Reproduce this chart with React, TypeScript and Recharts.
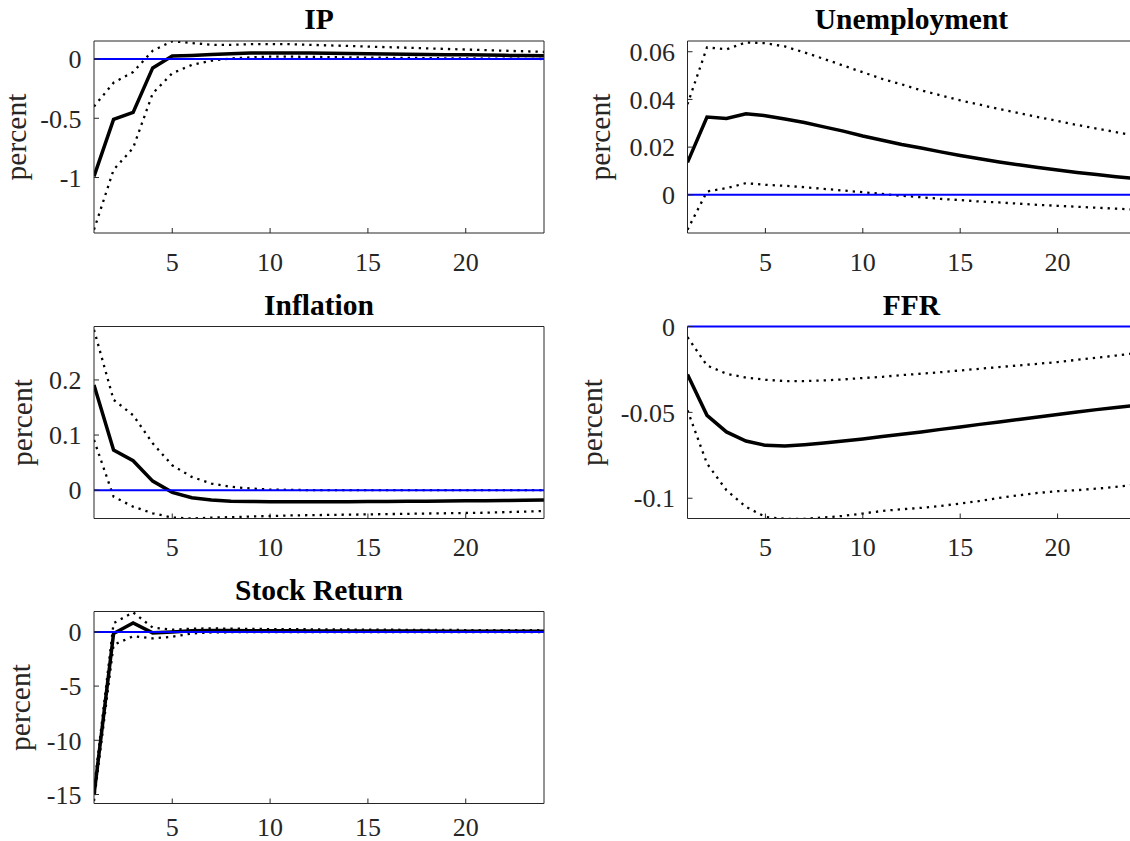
import React from 'react';
import { LineChart, Line, XAxis, YAxis, ReferenceLine } from 'recharts';

// ---------- data ----------
const horizons = [1, 2, 3, 4, 5, 6, 7, 8, 9, 10, 11, 12, 13, 14, 15, 16, 17, 18, 19, 20, 21, 22, 23, 24];
const xTicks = [5, 10, 15, 20];

const ipIrf = [-0.99, -0.51, -0.45, -0.075, 0.025, 0.03, 0.038, 0.045, 0.05, 0.05, 0.05, 0.05, 0.048, 0.047, 0.045, 0.043, 0.041, 0.039, 0.037, 0.035, 0.033, 0.031, 0.029, 0.027];
const ipUpper = [-0.4, -0.2, -0.11, 0.07, 0.15, 0.135, 0.12, 0.12, 0.125, 0.125, 0.125, 0.12, 0.115, 0.11, 0.105, 0.1, 0.095, 0.09, 0.085, 0.08, 0.075, 0.07, 0.065, 0.06];
const ipLower = [-1.44, -0.935, -0.75, -0.29, -0.12, -0.05, -0.014, 0.005, 0.014, 0.02, 0.02, 0.018, 0.016, 0.014, 0.012, 0.01, 0.009, 0.008, 0.006, 0.005, 0.004, 0.003, 0.002, 0.0];
const ipTicks = [-1, -0.5, 0];

const unIrf = [0.0136, 0.0326, 0.032, 0.034, 0.0332, 0.0318, 0.0303, 0.0285, 0.0267, 0.0247, 0.0229, 0.0211, 0.0196, 0.018, 0.0165, 0.0151, 0.0138, 0.0126, 0.0115, 0.0104, 0.0094, 0.0085, 0.0076, 0.0068];
const unUpper = [0.038, 0.0618, 0.061, 0.0639, 0.0636, 0.0622, 0.0597, 0.057, 0.0542, 0.0514, 0.0486, 0.0463, 0.0438, 0.0417, 0.0396, 0.0378, 0.036, 0.0343, 0.0326, 0.031, 0.0293, 0.0278, 0.0263, 0.0247];
const unLower = [-0.0146, 0.0014, 0.0028, 0.0049, 0.0042, 0.0038, 0.0032, 0.0025, 0.0018, 0.0011, 0.0004, -0.0004, -0.001, -0.0017, -0.0022, -0.0028, -0.0032, -0.0037, -0.0042, -0.0046, -0.005, -0.0054, -0.0058, -0.0062];
const unTicks = [0, 0.02, 0.04, 0.06];

const infIrf = [0.191, 0.0727, 0.0533, 0.0164, -0.004, -0.0139, -0.018, -0.02, -0.0206, -0.021, -0.021, -0.021, -0.021, -0.021, -0.0208, -0.0205, -0.0202, -0.02, -0.0198, -0.0195, -0.0192, -0.0188, -0.0184, -0.018];
const infUpper = [0.291, 0.164, 0.136, 0.085, 0.045, 0.024, 0.012, 0.006, 0.003, 0.001, 0.0005, 0.0, 0.0, 0.0, 0.0, 0.0, 0.0, 0.0, 0.0, 0.0, 0.0, 0.0, 0.0, 0.0];
const infLower = [0.091, -0.012, -0.03, -0.042, -0.0497, -0.0515, -0.05, -0.049, -0.048, -0.047, -0.046, -0.0455, -0.045, -0.0445, -0.044, -0.0435, -0.043, -0.0425, -0.042, -0.0415, -0.041, -0.04, -0.039, -0.038];
const infTicks = [0, 0.1, 0.2];

const ffrIrf = [-0.0279, -0.0517, -0.0614, -0.0667, -0.0692, -0.0696, -0.0688, -0.0678, -0.0667, -0.0655, -0.0641, -0.0628, -0.0614, -0.0599, -0.0585, -0.057, -0.0556, -0.0541, -0.0527, -0.0512, -0.0498, -0.0484, -0.0471, -0.0459];
const ffrUpper = [-0.0062, -0.0227, -0.0275, -0.0298, -0.031, -0.0318, -0.0318, -0.0314, -0.0308, -0.03, -0.0293, -0.0283, -0.0275, -0.0266, -0.0256, -0.0246, -0.0236, -0.0227, -0.0217, -0.0207, -0.0194, -0.0182, -0.0169, -0.0155];
const ffrLower = [-0.0488, -0.0798, -0.0953, -0.105, -0.1109, -0.112, -0.112, -0.1112, -0.1103, -0.1089, -0.1074, -0.1064, -0.1056, -0.1045, -0.1031, -0.1016, -0.0998, -0.0983, -0.0969, -0.0959, -0.0953, -0.0944, -0.0934, -0.092];
const ffrTicks = [-0.1, -0.05, 0];

const stIrf = [-15.05, -0.15, 0.83, -0.09, 0.0, 0.1, 0.12, 0.12, 0.11, 0.1, 0.1, 0.09, 0.09, 0.08, 0.08, 0.07, 0.07, 0.07, 0.06, 0.06, 0.06, 0.05, 0.05, 0.05];
const stUpper = [-14.5, 0.8, 1.8, 0.4, 0.2, 0.3, 0.32, 0.3, 0.28, 0.26, 0.25, 0.24, 0.23, 0.22, 0.21, 0.2, 0.19, 0.18, 0.18, 0.17, 0.17, 0.16, 0.16, 0.15];
const stLower = [-15.6, -1.2, -0.4, -0.6, -0.45, -0.15, -0.05, -0.03, -0.03, -0.03, -0.03, -0.03, -0.02, -0.02, -0.02, -0.02, -0.02, -0.02, -0.02, -0.02, -0.02, -0.02, -0.02, -0.02];
const stTicks = [-15, -10, -5, 0];

// ---------- layout ----------
const FONT = '"Liberation Serif", "Times New Roman", serif';
const AX = '#262626';
const PLOT_H = 192;
const X_AXIS_H = 50;

type PanelProps = {
  title: string;
  irf: number[];
  upper: number[];
  lower: number[];
  yDomain: [number, number];
  yTicks: number[];
  chartLeft: number;
  chartTop: number;
  chartWidth: number;
  plotLeft: number;
  plotRight: number;
  plotTop: number;
  labelX: number;
  xTickMargin: number;
  hideTopLine?: boolean;
};

function Panel(p: PanelProps) {
  const { chartLeft, chartTop, chartWidth, plotLeft, plotRight, plotTop } = p;
  const height = plotTop - chartTop + PLOT_H + X_AXIS_H;
  const data = horizons.map((h, i) => ({ h, irf: p.irf[i], upper: p.upper[i], lower: p.lower[i] }));
  const titleX = (plotLeft + plotRight) / 2 - chartLeft;
  const titleY = plotTop - chartTop - 12;
  const lx = p.labelX - chartLeft;
  const ly = plotTop - chartTop + PLOT_H / 2;
  const titleFn = () => (
    <text x={titleX} y={titleY} textAnchor="middle" fontFamily={FONT} fontWeight="bold" fontSize={29.5} fill="#000">
      {p.title}
    </text>
  );
  const ylabelFn = () => (
    <text x={lx} y={ly} transform={`rotate(-90, ${lx}, ${ly})`} textAnchor="middle" fontFamily={FONT} fontSize={29.5} fill={AX}>
      percent
    </text>
  );
  const tickStyle = { fill: AX, fontSize: 26, fontFamily: FONT };
  return (
    <div style={{ position: 'absolute', left: chartLeft, top: chartTop, width: chartWidth, height }}>
      <LineChart
        width={chartWidth}
        height={height}
        data={data}
        margin={{ top: plotTop - chartTop - 1, right: chartLeft + chartWidth - plotRight - 1, bottom: 0, left: 0 }}
      >
        <XAxis
          dataKey="h"
          type="number"
          domain={[1, 24]}
          ticks={xTicks}
          allowDataOverflow
          interval={0}
          height={X_AXIS_H}
          tickSize={-5}
          tickMargin={p.xTickMargin}
          stroke={AX}
          tick={tickStyle}
        />
        <XAxis
          xAxisId="top"
          orientation="top"
          dataKey="h"
          type="number"
          domain={[1, 24]}
          ticks={xTicks}
          allowDataOverflow
          interval={0}
          height={1}
          tickSize={-5}
          stroke={AX}
          axisLine={!p.hideTopLine}
          tick={false}
          label={titleFn}
        />
        <YAxis
          type="number"
          domain={p.yDomain}
          ticks={p.yTicks}
          allowDataOverflow
          interval={0}
          width={plotLeft - chartLeft}
          tickSize={-5}
          tickMargin={17.5}
          stroke={AX}
          tick={tickStyle}
          label={ylabelFn}
        />
        <YAxis
          yAxisId="right"
          orientation="right"
          type="number"
          domain={p.yDomain}
          ticks={p.yTicks}
          allowDataOverflow
          interval={0}
          width={1}
          tickSize={-5}
          stroke={AX}
          tick={false}
        />
        <Line type="linear" dataKey="upper" stroke="#000" strokeWidth={2.3} strokeDasharray="2.3 5" dot={false} activeDot={false} isAnimationActive={false} />
        <Line type="linear" dataKey="lower" stroke="#000" strokeWidth={2.3} strokeDasharray="2.3 5" dot={false} activeDot={false} isAnimationActive={false} />
        <Line type="linear" dataKey="irf" stroke="#000" strokeWidth={3.5} dot={false} activeDot={false} isAnimationActive={false} />
        <ReferenceLine y={0} stroke="#0000ff" strokeWidth={2} />
      </LineChart>
    </div>
  );
}

const LEFT = { chartLeft: 0, chartWidth: 560, plotLeft: 94, plotRight: 544 };
const RIGHT = { chartLeft: 560, chartWidth: 600, plotLeft: 687.5, plotRight: 1135.5 };

export default function App() {
  return (
    <div style={{ position: 'absolute', left: 0, top: 0, width: 1130, height: 841, overflow: 'hidden', background: '#fff' }}>
      <Panel title="IP" irf={ipIrf} upper={ipUpper} lower={ipLower} yDomain={[-1.468, 0.152]} yTicks={ipTicks}
        {...LEFT} chartTop={0} plotTop={41} labelX={26} xTickMargin={25} />
      <Panel title="Unemployment" irf={unIrf} upper={unUpper} lower={unLower} yDomain={[-0.016, 0.0645]} yTicks={unTicks}
        {...RIGHT} chartTop={0} plotTop={41} labelX={610} xTickMargin={25} />
      <Panel title="Inflation" irf={infIrf} upper={infUpper} lower={infLower} yDomain={[-0.0515, 0.297]} yTicks={infTicks}
        {...LEFT} chartTop={280} plotTop={326.5} labelX={31.5} xTickMargin={24} />
      <Panel title="FFR" irf={ffrIrf} upper={ffrUpper} lower={ffrLower} yDomain={[-0.1118, 0]} yTicks={ffrTicks}
        {...RIGHT} chartTop={280} plotTop={326.5} labelX={601.5} xTickMargin={24} hideTopLine />
      <Panel title="Stock Return" irf={stIrf} upper={stUpper} lower={stLower} yDomain={[-15.83, 1.88]} yTicks={stTicks}
        {...LEFT} chartTop={565} plotTop={611.5} labelX={29.5} xTickMargin={19.5} />
    </div>
  );
}
